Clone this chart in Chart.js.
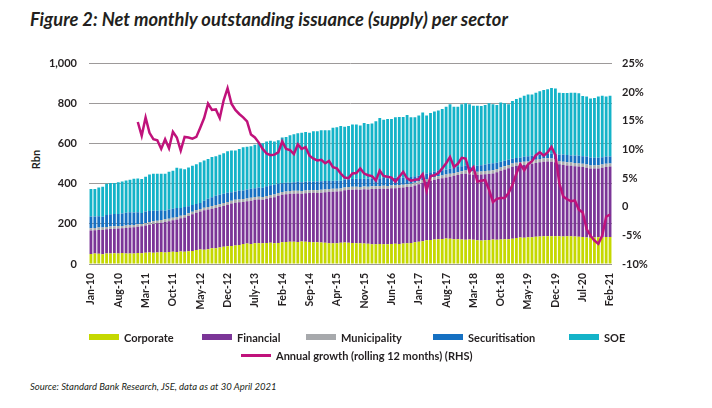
<!DOCTYPE html>
<html>
<head>
<meta charset="utf-8">
<script src="https://cdn.jsdelivr.net/npm/chart.js@4.4.1/dist/chart.umd.min.js"></script>
<style>
    body {
        margin: 0;
        width: 712px;
        height: 408px;
        background: #fff;
        font-family: Lato, "Open Sans", sans-serif;
        color: #231f20;
        position: relative;
        overflow: hidden;
    }
    #title {
        position: absolute;
        left: 30px;
        top: 8px;
        font-size: 18.3px;
        font-weight: bold;
        font-style: italic;
        white-space: nowrap;
    }
    #chartBox {
        position: absolute;
        left: 0;
        top: 45px;
        width: 712px;
        height: 290px;
    }
    #rbn {
        position: absolute;
        left: 26px;
        top: 153px;
        font-size: 11px;
        font-weight: bold;
        transform: rotate(-90deg);
    }
    .leg {
        position: absolute;
        font-size: 11px;
        font-weight: bold;
        white-space: nowrap;
        line-height: 14px;
    }
    .sw {
        display: inline-block;
        width: 30px;
        height: 6px;
        margin-right: 5px;
        vertical-align: 2px;
    }
    #source {
        position: absolute;
        left: 30px;
        top: 381px;
        font-size: 9.5px;
        font-style: italic;
        white-space: nowrap;
    }
</style>
</head>
<body>
<div id="title">Figure 2: Net monthly outstanding issuance (supply) per sector</div>
<div id="rbn">Rbn</div>
<div id="chartBox"><canvas id="supplyChart" width="712" height="290"></canvas></div>
<div id="legend"></div>
<div id="source">Source: Standard Bank Research, JSE, data as at 30 April 2021</div>
<script>
// monthly categories Jan-10 .. Feb-21
const monthNames = ["Jan", "Feb", "Mar", "Apr", "May", "Jun", "Jul", "Aug", "Sep", "Oct", "Nov", "Dec"];
const categories = [];
for (let y = 2010; y <= 2021; y++) {
    for (let m = 0; m < 12; m++) {
        if (y === 2021 && m > 1) break;
        categories.push(monthNames[m] + "-" + String(y).slice(2));
    }
}

// every 7th month is labelled
const tickLabels = [
    "Jan-10", "Aug-10", "Mar-11", "Oct-11", "May-12", "Dec-12", "July-13",
    "Feb-14", "Sep-14", "Apr-15", "Nov-15", "Jun-16", "Jan-17", "Aug-17",
    "Mar-18", "Oct-18", "May-19", "Dec-19", "Jul-20", "Feb-21",
];

const corporate = [
    50, 52, 51, 49, 52, 53, 54, 53, 55, 53, 52, 53, 55, 54, 56, 57, 56, 58, 60, 58,
    60, 61, 60, 62, 61, 63, 65, 70, 72, 71, 74, 78, 79, 82, 86, 88, 90, 92, 95, 100,
    102, 100, 103, 104, 103, 105, 106, 104, 105, 108, 110, 111, 111, 110, 112, 111, 110, 108, 109, 107,
    106, 104, 103, 104, 106, 107, 106, 105, 104, 103, 102, 101, 99, 99, 100, 98, 99, 100, 101, 100,
    102, 103, 105, 108, 111, 114, 118, 120, 122, 124, 125, 127, 126, 124, 123, 122, 121, 122, 121, 118,
    117, 119, 120, 122, 121, 122, 124, 123, 126, 130, 132, 131, 133, 134, 136, 137, 138, 139, 138, 139,
    138, 137, 138, 138, 137, 136, 135, 132, 131, 132, 133, 134, 135, 135,
];
const financial = [
    117, 116, 119, 121, 121, 122, 122, 124, 123, 127, 130, 130, 131, 134, 136, 139, 144, 145, 146, 152,
    153, 157, 162, 166, 171, 177, 183, 186, 190, 197, 198, 198, 201, 202, 204, 208, 212, 214, 213, 210,
    211, 216, 217, 218, 217, 220, 224, 229, 235, 237, 238, 239, 240, 242, 238, 242, 244, 247, 245, 249,
    252, 256, 258, 258, 257, 261, 264, 266, 268, 267, 271, 271, 275, 275, 275, 278, 276, 278, 277, 280,
    280, 281, 281, 284, 287, 291, 292, 296, 298, 300, 303, 305, 310, 316, 321, 327, 329, 326, 324, 326,
    329, 329, 329, 330, 337, 343, 348, 355, 359, 359, 360, 363, 363, 366, 368, 371, 372, 373, 372, 369,
    360, 357, 354, 352, 351, 350, 349, 348, 345, 344, 344, 346, 349, 351,
];
const municipality = [
    12, 12, 12, 12, 12, 12, 12, 12, 12, 12, 12, 12, 12, 12, 13, 13, 13, 13, 13, 13,
    13, 13, 13, 13, 13, 13, 13, 13, 13, 13, 13, 14, 14, 14, 14, 14, 14, 14, 14, 14,
    14, 14, 14, 14, 14, 14, 14, 14, 14, 14, 14, 14, 14, 14, 14, 14, 14, 14, 14, 14,
    14, 14, 14, 14, 14, 14, 14, 14, 14, 14, 14, 14, 14, 14, 14, 14, 14, 14, 14, 14,
    14, 14, 14, 14, 14, 14, 14, 14, 14, 14, 14, 14, 14, 14, 14, 14, 16, 16, 16, 16,
    16, 16, 16, 16, 16, 16, 16, 16, 16, 16, 16, 16, 16, 16, 16, 16, 16, 16, 16, 16,
    16, 16, 16, 16, 16, 16, 16, 16, 16, 16, 16, 16, 16, 16,
];
const securitisation = [
    58, 57, 56, 54, 60, 61, 62, 61, 62, 64, 64, 62, 60, 55, 57, 56, 53, 50, 49, 43,
    46, 45, 45, 39, 39, 35, 34, 31, 30, 34, 40, 43, 46, 47, 46, 45, 42, 42, 43, 43,
    45, 45, 44, 46, 46, 49, 49, 48, 46, 44, 43, 42, 43, 44, 44, 44, 44, 41, 44, 43,
    42, 40, 40, 40, 39, 38, 39, 39, 39, 40, 39, 39, 39, 40, 39, 39, 39, 38, 38, 37,
    36, 35, 34, 32, 30, 29, 28, 28, 28, 28, 26, 26, 26, 26, 26, 25, 24, 24, 26, 30,
    31, 33, 35, 35, 31, 29, 27, 26, 24, 24, 24, 25, 26, 25, 23, 22, 22, 22, 25, 26,
    33, 36, 36, 36, 37, 38, 38, 40, 40, 38, 37, 37, 36, 35,
];
const soe = [
    137, 137, 144, 150, 156, 156, 154, 158, 160, 161, 163, 168, 169, 169, 174, 182, 184, 184, 182, 184,
    188, 189, 200, 196, 189, 194, 195, 198, 203, 201, 199, 201, 198, 200, 203, 208, 208, 204, 209, 215,
    213, 212, 217, 223, 223, 223, 222, 216, 218, 228, 229, 236, 239, 242, 247, 248, 243, 253, 251, 254,
    254, 254, 265, 267, 272, 265, 265, 272, 271, 267, 278, 274, 274, 284, 300, 291, 296, 294, 302, 302,
    301, 311, 298, 294, 299, 308, 289, 296, 299, 300, 306, 313, 321, 305, 301, 309, 312, 309, 303, 300,
    296, 296, 302, 294, 288, 296, 287, 277, 288, 294, 297, 304, 308, 305, 312, 316, 320, 322, 327, 326,
    308, 307, 309, 312, 313, 312, 300, 300, 294, 298, 306, 307, 300, 303,
];
// annual growth, rolling 12 months (%), starts Jan-11
const growth = [
    null, null, null, null, null, null, null, null, null, null, null, null,
    14.8, 12.4, 15.6, 12.9, 11.8, 11.6, 10.1, 11.8, 10.2, 13.1, 12.1, 9.8,
    12.2, 12.1, 11.9, 12.2, 13.8, 15.5, 18.0, 16.9, 17.0, 15.5, 18.6, 20.7,
    18.0, 16.9, 16.2, 15.6, 14.9, 12.6, 12.1, 11.2, 10.1, 9.3, 9.0, 9.1,
    9.5, 11.4, 10.1, 9.9, 9.2, 10.9, 10.1, 10.4, 8.9, 8.4, 8.1, 8.2,
    7.6, 8.0, 6.9, 6.7, 5.8, 5.1, 5.0, 5.8, 5.9, 6.7, 5.8, 5.5,
    5.35, 4.6, 6.3, 5.35, 5.25, 5.1, 4.4, 5.25, 6.1, 4.95, 4.55, 4.7,
    4.8, 5.7, 2.8, 5.35, 5.5, 5.9, 6.7, 7.6, 8.7, 6.95, 7.5, 8.55,
    8.4, 6.1, 6.9, 4.4, 4.55, 4.67, 2.96, 0.8, 1.37, 1.54, 1.54, 2.39,
    3.82, 5.8, 7.4, 6.38, 7.4, 7.97, 9.0, 9.5, 8.94, 9.5, 10.46, 9.0,
    4.1, 1.8, 1.3, 0.95, 1.1, -0.5, -1.0, -3.9, -5.05, -5.9, -6.45, -5.05,
    -1.75, -1.35,
];

const seriesNames = ["Corporate", "Financial", "Municipality", "Securitisation", "SOE"];
const seriesColors = ["#c5d800", "#7b3597", "#a7a9ac", "#1570c2", "#14b3c8"];
const lineName = "Annual growth (rolling 12 months) (RHS)";
const lineColor = "#c0127b";

const font = { family: "Lato, 'Open Sans', sans-serif", size: 11, weight: "bold" };
const inkColor = "#231f20";

const barSets = [corporate, financial, municipality, securitisation, soe].map(function (vals, i) {
    return {
        type: "bar",
        label: seriesNames[i],
        data: vals,
        backgroundColor: seriesColors[i],
        yAxisID: "y",
        stack: "supply",
        barPercentage: 0.72,
        categoryPercentage: 1,
        order: 1,
    };
});

new Chart(document.getElementById("supplyChart").getContext("2d"), {
    type: "bar",
    data: {
        labels: categories,
        datasets: [
            {
                type: "line",
                label: lineName,
                data: growth,
                borderColor: lineColor,
                borderWidth: 2.5,
                pointRadius: 0,
                tension: 0,
                yAxisID: "y1",
                order: 0,
            },
        ].concat(barSets),
    },
    options: {
        responsive: false,
        animation: false,
        layout: { padding: { top: 14, left: 0, right: 0, bottom: 0 } },
        plugins: {
            legend: { display: false },
            tooltip: { enabled: false },
        },
        scales: {
            x: {
                stacked: true,
                grid: { display: false, drawTicks: false },
                border: { display: false },
                afterFit: function (s) { s.height = 71; },
                ticks: {
                    autoSkip: false,
                    minRotation: 90,
                    maxRotation: 90,
                    padding: 9,
                    color: inkColor,
                    font: { family: font.family, size: 10.5, weight: "bold" },
                    callback: function (v, idx) {
                        return idx % 7 === 0 ? tickLabels[idx / 7] : "";
                    },
                },
            },
            y: {
                stacked: true,
                min: 0,
                max: 1000,
                position: "left",
                afterFit: function (s) { s.width = 89; },
                grid: { color: "#9d9a9a", lineWidth: 1, drawTicks: false },
                border: { display: false },
                ticks: {
                    stepSize: 200,
                    padding: 12,
                    color: inkColor,
                    font: font,
                    callback: function (v) { return v.toLocaleString("en-US"); },
                },
            },
            y1: {
                min: -10,
                max: 25,
                position: "right",
                afterFit: function (s) { s.width = 100; },
                grid: { display: false, drawTicks: false },
                border: { display: false },
                ticks: {
                    stepSize: 5,
                    padding: 10,
                    color: inkColor,
                    font: font,
                    callback: function (v) { return v === 0 ? "0" : v + "%"; },
                },
            },
        },
    },
});

// legend, laid out like the report
const legendBox = document.getElementById("legend");
const legendSpots = [[89, 331], [202, 331], [306, 331], [433, 331], [569, 331]];
seriesNames.forEach(function (name, i) {
    const el = document.createElement("div");
    el.className = "leg";
    el.style.left = legendSpots[i][0] + "px";
    el.style.top = legendSpots[i][1] + "px";
    el.innerHTML = '<span class="sw" style="background:' + seriesColors[i] + '"></span>' + name;
    legendBox.appendChild(el);
});
const lineItem = document.createElement("div");
lineItem.className = "leg";
lineItem.style.left = "241px";
lineItem.style.top = "349px";
lineItem.innerHTML = '<span class="sw" style="height:3px;vertical-align:3px;background:' + lineColor + '"></span>' + lineName;
legendBox.appendChild(lineItem);
</script>
</body>
</html>
